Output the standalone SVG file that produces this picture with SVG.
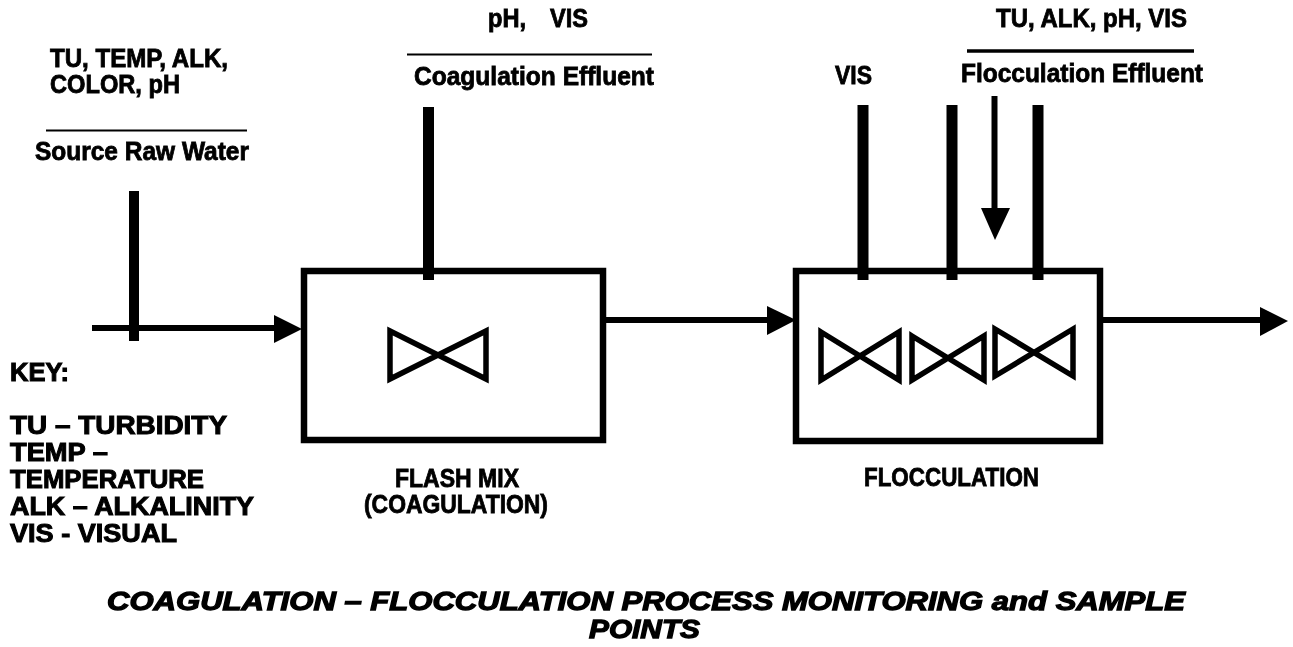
<svg xmlns="http://www.w3.org/2000/svg" width="1293" height="647" viewBox="0 0 1293 647">
<defs>
<filter id="soft" x="-5%" y="-5%" width="110%" height="110%"><feGaussianBlur stdDeviation="0.6"/></filter>
</defs>
<style>
text{font-family:"Liberation Sans",Arial,sans-serif;font-weight:700;font-size:25px;fill:#000;stroke:#000;stroke-width:.8px}
.w{font-size:25px;stroke-width:1px}
.t{font-size:26.500px;font-style:italic;stroke-width:1.300px}
.box{fill:#fff;stroke:#000;stroke-width:6.5px}
.tie{fill:none;stroke:#000;stroke-width:5.500px;stroke-miterlimit:6}
.flow{fill:none;stroke:#000;stroke-width:6px}
.sample{fill:none;stroke:#000;stroke-width:11px}
.rule{fill:none;stroke:#000}
.head{fill:#000}
</style>
<rect width="1293" height="647" fill="#fff"/>
<g filter="url(#soft)">
<g id="flash-mix">
<rect class="box" x="304" y="271" width="299" height="169"/>
<polygon class="tie" points="390,331 486,379 486,331 390,379"/>
<text x="395" y="487" textLength="124" lengthAdjust="spacingAndGlyphs">FLASH MIX</text>
<text x="364" y="513" textLength="184" lengthAdjust="spacingAndGlyphs">(COAGULATION)</text>
</g>
<g id="flocculation">
<rect class="box" x="796" y="271" width="304" height="170"/>
<polygon class="tie" points="821,332 899,380 899,332 821,380"/>
<polygon class="tie" points="912,336 984,380 984,336 912,380"/>
<polygon class="tie" points="995,329 1073,376 1073,329 995,376"/>
<text x="864" y="486" textLength="175" lengthAdjust="spacingAndGlyphs">FLOCCULATION</text>
</g>
<g id="connectors">
<line class="flow" x1="92" y1="328" x2="278" y2="328"/>
<polygon class="head" points="274,315 302,329 274,343"/>
<line class="flow" x1="606" y1="320" x2="772" y2="320"/>
<polygon class="head" points="767,306 796,320 767,335"/>
<line class="flow" x1="1103" y1="320" x2="1264" y2="320"/>
<polygon class="head" points="1260,307 1288,321 1260,336"/>
<line class="flow" x1="994.500" y1="96" x2="994.500" y2="212"/>
<polygon class="head" points="981,208 1010,208 995,240"/>
<line class="sample" style="stroke-width:10px" x1="134" y1="191" x2="134" y2="341"/>
<line class="sample" x1="428.500" y1="107" x2="428.500" y2="280"/>
<line class="sample" x1="863" y1="105" x2="863" y2="280"/>
<line class="sample" x1="952" y1="105" x2="952" y2="280"/>
<line class="sample" x1="1038" y1="105" x2="1038" y2="280"/>
</g>
<g id="source-raw-water">
<text x="50" y="67" textLength="178" lengthAdjust="spacingAndGlyphs">TU, TEMP, ALK,</text>
<text x="50" y="93" textLength="130" lengthAdjust="spacingAndGlyphs">COLOR, pH</text>
<line class="rule" stroke-width="2" x1="46" y1="130.500" x2="247" y2="130.500"/>
<text x="35" y="160" textLength="214" lengthAdjust="spacingAndGlyphs">Source Raw Water</text>
</g>
<g id="coagulation-effluent">
<text x="488" y="27" textLength="38" lengthAdjust="spacingAndGlyphs">pH,</text>
<text x="550" y="27" textLength="38" lengthAdjust="spacingAndGlyphs">VIS</text>
<line class="rule" stroke-width="2" x1="407" y1="54.500" x2="652" y2="54.500"/>
<text x="414" y="85" textLength="240" lengthAdjust="spacingAndGlyphs">Coagulation Effluent</text>
</g>
<g id="flocculation-effluent">
<text x="835" y="84" textLength="37" lengthAdjust="spacingAndGlyphs">VIS</text>
<text x="996" y="27" textLength="191" lengthAdjust="spacingAndGlyphs">TU, ALK, pH, VIS</text>
<line class="rule" stroke-width="3.500" x1="967" y1="51" x2="1194" y2="51"/>
<text x="961" y="82" textLength="242" lengthAdjust="spacingAndGlyphs">Flocculation Effluent</text>
</g>
<g id="key">
<text class="w" x="10" y="381" textLength="59" lengthAdjust="spacingAndGlyphs">KEY:</text>
<text class="w" x="10" y="434" textLength="217" lengthAdjust="spacingAndGlyphs">TU – TURBIDITY</text>
<text class="w" x="10" y="461" textLength="98" lengthAdjust="spacingAndGlyphs">TEMP –</text>
<text class="w" x="10" y="488" textLength="194" lengthAdjust="spacingAndGlyphs">TEMPERATURE</text>
<text class="w" x="10" y="515" textLength="244" lengthAdjust="spacingAndGlyphs">ALK – ALKALINITY</text>
<text class="w" x="10" y="542" textLength="167" lengthAdjust="spacingAndGlyphs">VIS - VISUAL</text>
</g>
<g id="title">
<text class="t" x="107" y="610" textLength="1078" lengthAdjust="spacingAndGlyphs">COAGULATION – FLOCCULATION PROCESS MONITORING and SAMPLE</text>
<text class="t" x="589" y="638" textLength="111" lengthAdjust="spacingAndGlyphs">POINTS</text>
</g>
</g>
</svg>
